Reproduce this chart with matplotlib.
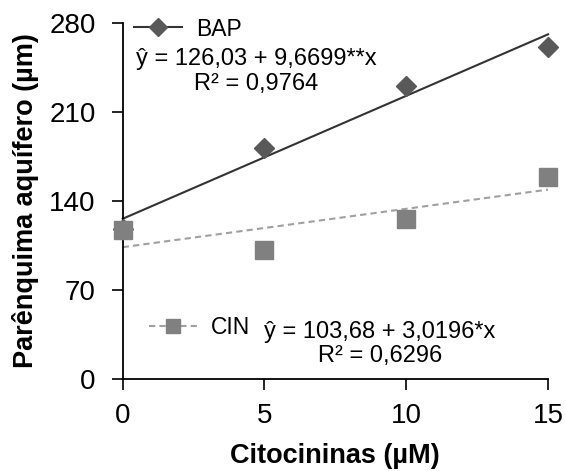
import numpy as np
import matplotlib
matplotlib.use('Agg')
import matplotlib.pyplot as plt
from matplotlib.lines import Line2D

plt.rcParams['font.family'] = ['Liberation Sans', 'DejaVu Sans']

# dados
citocininas = [0, 5, 10, 15]
bap = [118.0, 181.4, 230.5, 261.1]
cin = [117.2, 101.5, 125.8, 159.1]

# coeficientes das regressões (do gráfico)
bap_a, bap_b = 126.03, 9.6699
cin_a, cin_b = 103.68, 3.0196
bap_eq = 'ŷ = 126,03 + 9,6699**x\nR² = 0,9764'
cin_eq = 'ŷ = 103,68 + 3,0196*x\nR² = 0,6296'

yticks = [0, 70, 140, 210, 280]
xticks = [0, 5, 10, 15]

W, H = 565, 471
fig = plt.figure(figsize=(W / 100, H / 100), dpi=100)
ax = fig.add_axes([122.7 / W, 1 - 379 / H, (548 - 122.7) / W, (379 - 23) / H])

# linhas de tendência
xs = np.array([min(citocininas), max(citocininas)])
ax.plot(xs, bap_a + bap_b * xs, color='#333333', lw=1.5, zorder=2, clip_on=False)
ax.plot(xs, cin_a + cin_b * xs, color='#a0a0a0', lw=1.5, ls=(0, (3, 2)), zorder=2, clip_on=False)

# pontos
ax.plot(citocininas, bap, ls='none', marker='D', ms=10.5, color='#595959', mec='#595959', zorder=3, clip_on=False)
ax.plot(citocininas, cin, ls='none', marker='s', ms=12.5, color='#808080', mec='#808080', zorder=4, clip_on=False)

ax.set_xlim(0, 15)
ax.set_ylim(0, 280)
ax.set_xticks(xticks)
ax.set_yticks(yticks)
ax.tick_params(axis='both', direction='out', length=8, width=1.2, labelsize=20, pad=9, colors='black')
ax.tick_params(axis='y', pad=11.5)
for s in ['top', 'right']:
    ax.spines[s].set_visible(False)
for s in ['left', 'bottom']:
    ax.spines[s].set_linewidth(1.3)

ax.set_xlabel('Citocininas (µM)', fontsize=19.5, fontweight='bold')
ax.set_ylabel('Parênquima aquífero (µm)', fontsize=19.5, fontweight='bold')
ax.xaxis.set_label_coords(0.5, 1 - (456 - 23) / (379 - 23), transform=ax.transAxes)
ax.yaxis.set_label_coords(-(122.7 - 26) / (548 - 122.7), 0.5, transform=ax.transAxes)
ax.xaxis.label.set_va('center')
ax.yaxis.label.set_va('center')

# legendas
h_bap = Line2D([], [], color='#333333', lw=1.5, marker='D', ms=9, mfc='#595959', mec='#595959')
h_cin = Line2D([], [], color='#a0a0a0', lw=1.5, ls=(0, (3, 2)), marker='s', ms=10, mfc='#808080', mec='#808080')
leg1 = ax.legend([h_bap], ['BAP'], loc='center left', bbox_to_anchor=(134 / W, 1 - 29 / H),
                 bbox_transform=fig.transFigure, frameon=False, fontsize=16.5,
                 handlelength=2.1, handletextpad=0.6, borderpad=0, borderaxespad=0)
ax.add_artist(leg1)
ax.legend([h_cin], ['CIN'], loc='center left', bbox_to_anchor=(149 / W, 1 - 328 / H),
          bbox_transform=fig.transFigure, frameon=False, fontsize=16.5,
          handlelength=2.1, handletextpad=0.6, borderpad=0, borderaxespad=0)

fig.text(256 / W, 1 - 71.5 / H, bap_eq, ha='center', va='center', fontsize=17, linespacing=1.12)
fig.text(380 / W, 1 - 344 / H, cin_eq, ha='center', va='center', fontsize=17, linespacing=1.12)

fig.savefig('out.png', dpi=100)
